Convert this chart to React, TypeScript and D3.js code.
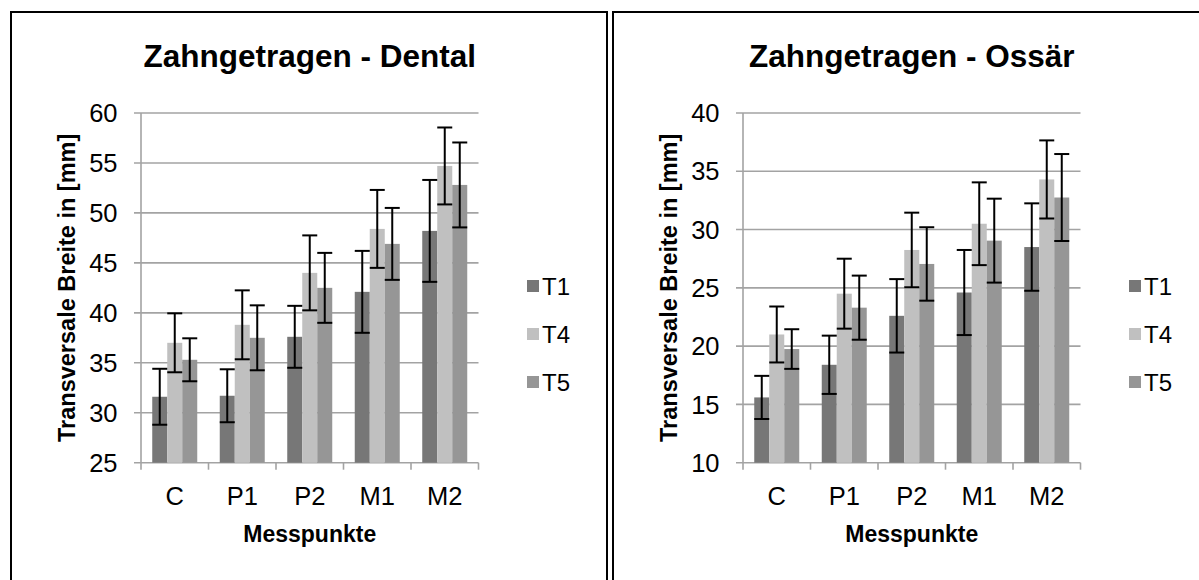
import * as d3 from "d3";

const categories = ["C", "P1", "P2", "M1", "M2"];
const seriesNames = ["T1", "T4", "T5"];
const seriesColors = ["#777777", "#c0c0c0", "#969696"];

// Zahngetragen - Dental
const dentalT1 = [31.6, 31.7, 37.6, 42.1, 48.2];
const dentalT4 = [37.0, 38.8, 44.0, 48.4, 54.7];
const dentalT5 = [35.3, 37.5, 42.5, 46.9, 52.8];
const dentalErrT1 = [2.8, 2.65, 3.1, 4.1, 5.1];
const dentalErrT4 = [2.95, 3.45, 3.75, 3.9, 3.85];
const dentalErrT5 = [2.15, 3.25, 3.5, 3.6, 4.25];
const dentalTicks = [25, 30, 35, 40, 45, 50, 55, 60];

// Zahngetragen - Ossär
const ossT1 = [15.6, 18.4, 22.6, 24.6, 28.5];
const ossT4 = [21.0, 24.5, 28.25, 30.5, 34.3];
const ossT5 = [19.75, 23.3, 27.05, 29.05, 32.75];
const ossErrT1 = [1.85, 2.5, 3.15, 3.65, 3.75];
const ossErrT4 = [2.4, 3.0, 3.2, 3.55, 3.35];
const ossErrT5 = [1.7, 2.75, 3.15, 3.6, 3.73];
const ossTicks = [10, 15, 20, 25, 30, 35, 40];

const FONT = "'Liberation Sans', Arial, sans-serif";

interface PanelProps {
  offsetX: number;
  title: string;
  values: number[][];
  errors: number[][];
  ticks: number[];
}

function Panel({ offsetX, title, values, errors, ticks }: PanelProps) {
  const left = 141;
  const right = 478.5;
  const top = 113;
  const bottom = 462.7;

  const y = d3
    .scaleLinear()
    .domain([ticks[0], ticks[ticks.length - 1]])
    .range([bottom, top]);
  const x = d3.scaleBand().domain(categories).range([left, right]);
  const xs = d3
    .scaleBand()
    .domain(seriesNames)
    .range([0, x.bandwidth()])
    .paddingInner(0)
    .paddingOuter(0.75);
  const bw = xs.bandwidth();
  const bounds = categories.map((c) => x(c) as number).concat([right]);

  return (
    <g transform={`translate(${offsetX},0)`}>
      <rect x={11} y={12} width={596} height={620} fill="#fff" stroke="#000" strokeWidth={2} />
      <text
        x={(left + right) / 2}
        y={67}
        textAnchor="middle"
        fontFamily={FONT}
        fontWeight="bold"
        fontSize={31.5}
      >
        {title}
      </text>

      {/* grid */}
      {ticks.map((t) => (
        <g key={t}>
          <line x1={left - 7} x2={right} y1={y(t)} y2={y(t)} stroke="#a3a3a3" strokeWidth={1.6} />
          <text
            x={117.5}
            y={y(t)}
            dy="0.36em"
            textAnchor="end"
            fontFamily={FONT}
            fontSize={25.5}
          >
            {t}
          </text>
        </g>
      ))}
      <line x1={left} x2={left} y1={top} y2={bottom} stroke="#a3a3a3" strokeWidth={1.6} />
      {bounds.map((b, i) => (
        <line key={i} x1={b} x2={b} y1={bottom} y2={bottom + 7} stroke="#a3a3a3" strokeWidth={1.6} />
      ))}

      {/* bars */}
      {categories.map((c, ci) =>
        seriesNames.map((s, si) => {
          const bx = (x(c) as number) + (xs(s) as number);
          const v = values[si][ci];
          return (
            <rect
              key={c + s}
              x={bx}
              y={y(v)}
              width={bw}
              height={bottom - y(v)}
              fill={seriesColors[si]}
            />
          );
        })
      )}

      {/* error bars */}
      {categories.map((c, ci) =>
        seriesNames.map((s, si) => {
          const cx = (x(c) as number) + (xs(s) as number) + bw / 2;
          const v = values[si][ci];
          const e = errors[si][ci];
          const hi = y(v + e);
          const lo = y(v - e);
          return (
            <g key={"e" + c + s} stroke="#000" strokeWidth={2}>
              <line x1={cx} x2={cx} y1={hi} y2={lo} />
              <line x1={cx - bw / 2} x2={cx + bw / 2} y1={hi} y2={hi} />
              <line x1={cx - bw / 2} x2={cx + bw / 2} y1={lo} y2={lo} />
            </g>
          );
        })
      )}

      {/* category labels */}
      {categories.map((c) => (
        <text
          key={c}
          x={(x(c) as number) + x.bandwidth() / 2}
          y={505}
          textAnchor="middle"
          fontFamily={FONT}
          fontSize={25.5}
        >
          {c}
        </text>
      ))}
      <text
        x={(left + right) / 2}
        y={542}
        textAnchor="middle"
        fontFamily={FONT}
        fontWeight="bold"
        fontSize={23}
      >
        Messpunkte
      </text>
      <text
        transform={`translate(75,${(top + bottom) / 2}) rotate(-90)`}
        textAnchor="middle"
        fontFamily={FONT}
        fontWeight="bold"
        fontSize={23.5}
      >
        Transversale Breite in [mm]
      </text>

      {/* legend */}
      {seriesNames.map((s, si) => (
        <g key={"l" + s} transform={`translate(527,${286 + si * 48})`}>
          <rect x={0} y={-6} width={12} height={12} fill={seriesColors[si]} />
          <text x={15} y={0} dy="0.36em" fontFamily={FONT} fontSize={24}>
            {s}
          </text>
        </g>
      ))}
    </g>
  );
}

export default function App() {
  return (
    <svg
      width={1199}
      height={580}
      style={{ position: "absolute", left: 0, top: 0, display: "block" }}
    >
      <rect width={1199} height={580} fill="#fff" />
      <Panel
        offsetX={0}
        title="Zahngetragen - Dental"
        values={[dentalT1, dentalT4, dentalT5]}
        errors={[dentalErrT1, dentalErrT4, dentalErrT5]}
        ticks={dentalTicks}
      />
      <Panel
        offsetX={602}
        title="Zahngetragen - Ossär"
        values={[ossT1, ossT4, ossT5]}
        errors={[ossErrT1, ossErrT4, ossErrT5]}
        ticks={ossTicks}
      />
    </svg>
  );
}
